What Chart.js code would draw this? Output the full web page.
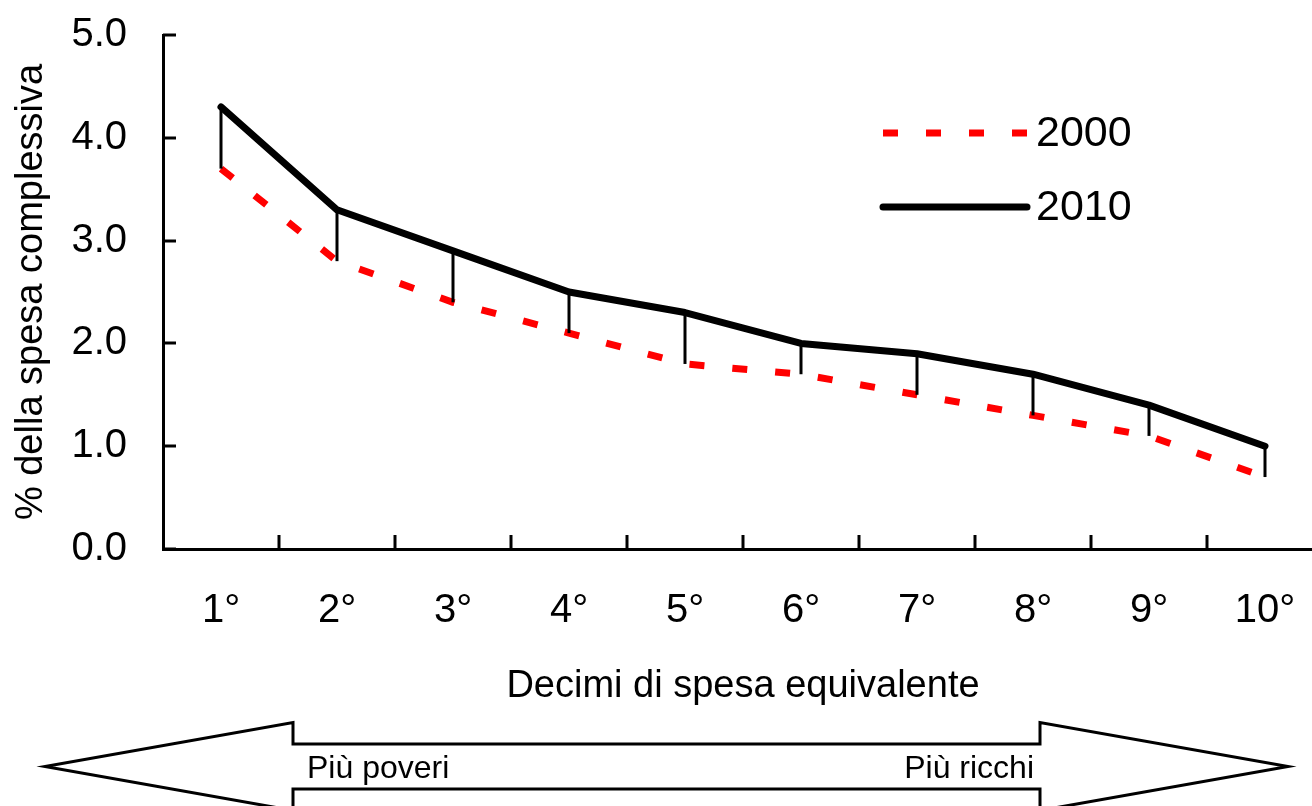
<!DOCTYPE html>
<html lang="it">
<head>
<meta charset="utf-8">
<title>Quota di spesa per decimi</title>
<script src="https://cdn.jsdelivr.net/npm/chart.js@4.4.1/dist/chart.umd.min.js"></script>
<style>
  html, body { margin: 0; padding: 0; background: #ffffff; }
  #wrap { width: 1312px; height: 806px; overflow: hidden; position: relative; }
  #chart { display: block; }
</style>
</head>
<body>
<div id="wrap"><canvas id="chart" width="1340" height="806"></canvas></div>
<script>
// Decimi di spesa equivalente
const categories = ['1°', '2°', '3°', '4°', '5°', '6°', '7°', '8°', '9°', '10°'];
// Quota della spesa complessiva (%)
const values2000 = [3.7, 2.8, 2.4, 2.1, 1.8, 1.7, 1.5, 1.3, 1.1, 0.7];
const values2010 = [4.3, 3.3, 2.9, 2.5, 2.3, 2.0, 1.9, 1.7, 1.4, 1.0];
const seriesLabels = ['2000', '2010'];
const yTicks = [0, 1, 2, 3, 4, 5];
const arrowLabels = ['Più poveri', 'Più ricchi'];

const FONT = '"Liberation Sans", Arial, "DejaVu Sans", sans-serif';

// Vertical connectors between the two years, inward tick marks,
// the in-plot legend and the poor/rich arrow underneath.
const extras = {
  id: 'extras',
  afterDatasetsDraw(chart) {
    const { ctx, scales: { x, y } } = chart;
    const a = chart.data.datasets[0].data;
    const b = chart.data.datasets[1].data;
    ctx.save();
    ctx.strokeStyle = '#000';
    ctx.lineWidth = 3;
    ctx.lineCap = 'butt';
    for (let i = 0; i < a.length; i++) {
      const px = x.getPixelForValue(i);
      ctx.beginPath();
      ctx.moveTo(px, y.getPixelForValue(b[i]));
      ctx.lineTo(px, y.getPixelForValue(a[i]));
      ctx.stroke();
    }
    ctx.restore();
  },
  afterDraw(chart) {
    const { ctx, chartArea, scales: { x, y } } = chart;
    ctx.save();
    // inward ticks
    ctx.strokeStyle = '#000';
    ctx.lineWidth = 3;
    y.ticks.forEach(t => {
      const py = Math.round(y.getPixelForValue(t.value));
      ctx.beginPath();
      ctx.moveTo(chartArea.left, py);
      ctx.lineTo(chartArea.left + 13, py);
      ctx.stroke();
    });
    for (let i = 0; i < categories.length - 1; i++) {
      const px = Math.round((x.getPixelForValue(i) + x.getPixelForValue(i + 1)) / 2);
      ctx.beginPath();
      ctx.moveTo(px, chartArea.bottom);
      ctx.lineTo(px, chartArea.bottom - 14);
      ctx.stroke();
    }

    // legend
    const legendY = [133, 207];
    chart.data.datasets.forEach((ds, i) => {
      const ly = legendY[i];
      ctx.save();
      ctx.strokeStyle = ds.borderColor;
      ctx.lineWidth = ds.borderWidth;
      ctx.setLineDash(ds.borderDash || []);
      ctx.lineCap = ds.borderCapStyle || 'butt';
      ctx.beginPath();
      ctx.moveTo(883, ly);
      ctx.lineTo(1027, ly);
      ctx.stroke();
      ctx.restore();
      ctx.fillStyle = '#000';
      ctx.font = '43px ' + FONT;
      ctx.textAlign = 'left';
      ctx.textBaseline = 'middle';
      ctx.fillText(ds.label, 1036, ly + 1);
    });

    // double arrow
    ctx.beginPath();
    ctx.moveTo(293, 744);
    ctx.lineTo(293, 722.5);
    ctx.lineTo(45, 766.5);
    ctx.lineTo(293, 810.5);
    ctx.lineTo(293, 789);
    ctx.lineTo(1040, 789);
    ctx.lineTo(1040, 810.5);
    ctx.lineTo(1288, 766.5);
    ctx.lineTo(1040, 722.5);
    ctx.lineTo(1040, 744);
    ctx.closePath();
    ctx.fillStyle = '#fff';
    ctx.fill();
    ctx.lineWidth = 3;
    ctx.lineJoin = 'miter';
    ctx.strokeStyle = '#000';
    ctx.stroke();
    ctx.fillStyle = '#000';
    ctx.font = '32px ' + FONT;
    ctx.textBaseline = 'alphabetic';
    ctx.textAlign = 'left';
    ctx.fillText(arrowLabels[0], 307, 778);
    ctx.textAlign = 'right';
    ctx.fillText(arrowLabels[1], 1034, 778);
    ctx.restore();
  }
};

new Chart(document.getElementById('chart'), {
  type: 'line',
  data: {
    labels: categories,
    datasets: [
      {
        label: seriesLabels[0],
        data: values2000,
        borderColor: '#ff0000',
        borderWidth: 7,
        borderDash: [15, 28],
        borderCapStyle: 'butt',
        pointRadius: 0,
        tension: 0,
        fill: false
      },
      {
        label: seriesLabels[1],
        data: values2010,
        borderColor: '#000000',
        borderWidth: 7,
        borderCapStyle: 'round',
        borderJoinStyle: 'round',
        pointRadius: 0,
        tension: 0,
        fill: false
      }
    ]
  },
  options: {
    responsive: false,
    animation: false,
    devicePixelRatio: 1,
    layout: { padding: { top: 35, right: 17, bottom: 97, left: 0 } },
    plugins: {
      legend: { display: false },
      tooltip: { enabled: false }
    },
    scales: {
      x: {
        type: 'category',
        offset: true,
        grid: { display: false, drawTicks: false },
        border: { display: true, color: '#000', width: 3 },
        ticks: {
          color: '#000',
          font: { family: FONT, size: 40 },
          padding: 38,
          maxRotation: 0,
          minRotation: 0,
          autoSkip: false
        },
        title: {
          display: true,
          text: 'Decimi di spesa equivalente',
          color: '#000',
          font: { family: FONT, size: 38 },
          padding: { top: 0, bottom: 0 }
        },
        afterFit(scale) { scale.height = 160; }
      },
      y: {
        min: 0,
        max: 5,
        grid: { display: false, drawTicks: false },
        border: { display: true, color: '#000', width: 3 },
        afterBuildTicks(scale) { scale.ticks = yTicks.map(v => ({ value: v })); },
        ticks: {
          color: '#000',
          font: { family: FONT, size: 40 },
          padding: 36,
          callback: v => Number(v).toFixed(1)
        },
        title: {
          display: true,
          text: '% della spesa complessiva',
          color: '#000',
          font: { family: FONT, size: 38 },
          padding: { top: 9, bottom: 0 }
        },
        afterFit(scale) {
          scale.width = 163;
          scale.paddingTop = 24;
          scale.paddingBottom = 24;
        }
      }
    }
  },
  plugins: [extras]
});
</script>
</body>
</html>
